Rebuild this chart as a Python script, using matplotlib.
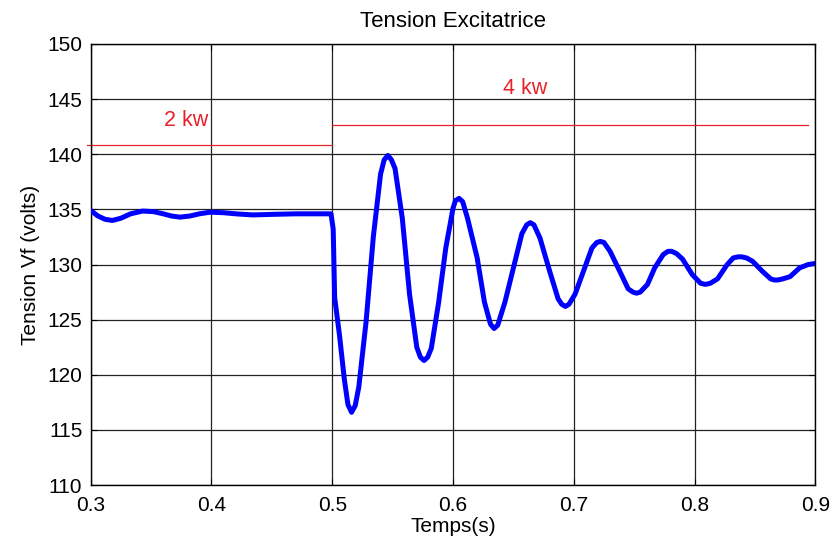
import matplotlib.pyplot as plt

# tension excitatrice
temps = [0.300, 0.306, 0.312, 0.318, 0.325, 0.333, 0.343, 0.352, 0.360, 0.367,
         0.374, 0.382, 0.390, 0.399, 0.410, 0.420, 0.434, 0.450, 0.470, 0.499,
         0.5008, 0.502, 0.506, 0.510, 0.513, 0.516, 0.519,
         0.522, 0.528, 0.534, 0.540, 0.543, 0.546, 0.549,
         0.552, 0.558, 0.564, 0.570, 0.573, 0.576, 0.579,
         0.582, 0.588, 0.594, 0.600, 0.602, 0.605, 0.608,
         0.612, 0.620, 0.626, 0.631, 0.634, 0.637,
         0.643, 0.650, 0.657, 0.661, 0.664, 0.667,
         0.672, 0.680, 0.687, 0.690, 0.693, 0.696,
         0.701, 0.709, 0.715, 0.719, 0.722, 0.725,
         0.730, 0.738, 0.745, 0.749, 0.752, 0.755,
         0.761, 0.767, 0.774, 0.778, 0.781, 0.785,
         0.790, 0.798, 0.805, 0.809, 0.813,
         0.819, 0.827, 0.832, 0.836, 0.839, 0.843,
         0.848, 0.856, 0.863, 0.866, 0.869, 0.873,
         0.879, 0.887, 0.894, 0.900]
tension = [134.9, 134.4, 134.1, 134.0, 134.2, 134.6, 134.85, 134.8, 134.6, 134.4,
           134.3, 134.4, 134.6, 134.75, 134.7, 134.6, 134.5, 134.55, 134.6, 134.6,
           133.2, 127.0, 123.6, 119.6, 117.3, 116.6, 117.2,
           118.9, 124.8, 132.5, 138.2, 139.5, 139.9, 139.5,
           138.7, 134.2, 127.3, 122.5, 121.6, 121.3, 121.6,
           122.4, 126.5, 131.5, 135.1, 135.8, 136.0, 135.7,
           134.2, 130.6, 126.6, 124.6, 124.2, 124.5,
           126.6, 129.7, 132.8, 133.6, 133.8, 133.6,
           132.4, 129.4, 126.9, 126.4, 126.2, 126.4,
           127.3, 129.7, 131.5, 132.0, 132.1, 132.0,
           131.2, 129.4, 127.8, 127.5, 127.4, 127.5,
           128.2, 129.7, 130.9, 131.2, 131.2, 131.0,
           130.5, 129.1, 128.3, 128.2, 128.3,
           128.7, 130.0, 130.6, 130.7, 130.7, 130.6,
           130.3, 129.4, 128.7, 128.6, 128.6, 128.7,
           128.9, 129.7, 130.0, 130.1]

# puissance de charge (niveaux rouges)
charge_2kw_t = [0.297, 0.500]
charge_2kw_v = [140.85, 140.85]
charge_4kw_t = [0.500, 0.894]
charge_4kw_v = [142.7, 142.7]

xticks = [0.3, 0.4, 0.5, 0.6, 0.7, 0.8, 0.9]
yticks = [110, 115, 120, 125, 130, 135, 140, 145, 150]

plt.rcParams['font.family'] = ['Liberation Sans', 'DejaVu Sans']

fig = plt.figure(figsize=(8.32, 5.5), dpi=100)
ax = fig.add_axes([0.109, 0.118, 0.871, 0.802])

ax.plot(temps, tension, color='#0000ff', lw=3.6, solid_joinstyle='round',
        solid_capstyle='round', zorder=3)
ax.plot(charge_2kw_t, charge_2kw_v, color='#e8202a', lw=0.9, clip_on=False, zorder=2)
ax.plot(charge_4kw_t, charge_4kw_v, color='#e8202a', lw=0.9, zorder=2)
ax.text(0.379, 143.07, '2 kw', color='#e8202a', fontsize=15.5, ha='center', va='center')
ax.text(0.660, 146.0, '4 kw', color='#e8202a', fontsize=15.5, ha='center', va='center')

ax.set_xlim(0.3, 0.9)
ax.set_ylim(110, 150)
ax.set_xticks(xticks)
ax.set_yticks(yticks)
ax.set_xticklabels([f'{v:.1f}' for v in xticks])
ax.grid(True, color='#222222', lw=0.9, ls='-')
ax.set_axisbelow(True)
ax.tick_params(direction='in', length=4, labelsize=15, top=True, right=True)
ax.tick_params(axis='x', pad=8)
ax.tick_params(axis='y', pad=6)
for s in ax.spines.values():
    s.set_linewidth(1.0)

ax.set_title('Tension Excitatrice', fontsize=16, pad=12)
ax.set_xlabel('Temps(s)', fontsize=15, labelpad=1)
ax.set_ylabel('Tension Vf (volts)', fontsize=15, labelpad=5)

fig.savefig('out.png', dpi=100, facecolor='white')
